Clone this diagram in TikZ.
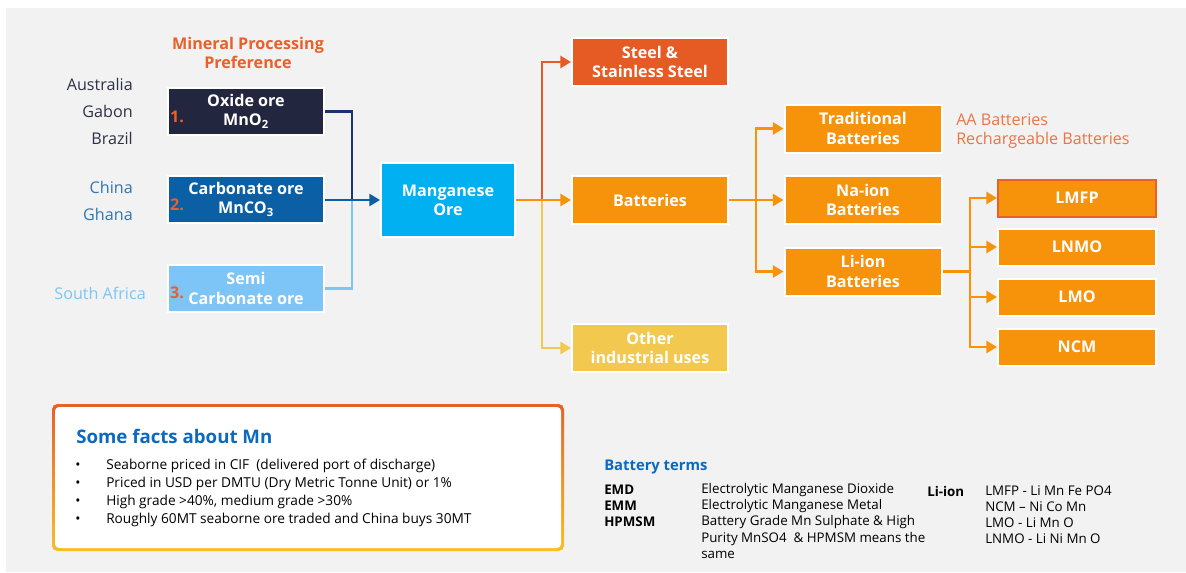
\documentclass[tikz,border=0pt]{standalone}
\usepackage{fontspec}
\setmainfont{Open Sans}
\usetikzlibrary{arrows.meta}
\definecolor{bg}{HTML}{F2F2F2}
\definecolor{navy}{HTML}{23263F}
\definecolor{navyline}{HTML}{1B3370}
\definecolor{carb}{HTML}{0B5FA5}
\definecolor{semi}{HTML}{7DC4F7}
\definecolor{mnblue}{HTML}{00B0F0}
\definecolor{steel}{HTML}{E65A24}
\definecolor{bat}{HTML}{F7920B}
\definecolor{other}{HTML}{F2C84E}
\definecolor{orangetxt}{HTML}{E8602A}
\definecolor{aatxt}{HTML}{EA7448}
\definecolor{titleblue}{HTML}{0B6ABF}
\definecolor{countrydark}{HTML}{2F3146}
\definecolor{countryblue}{HTML}{2E75B6}
\definecolor{gradtop}{HTML}{E8602A}
\definecolor{gradbot}{HTML}{F9BE26}
\tikzset{
  box/.style={draw=white, line width=1.5pt, text=white, align=center, inner sep=0pt,
    font=\bfseries\fontsize{12.1}{14.5}\selectfont},
  orebox/.style={box, minimum width=117pt, minimum height=35.25pt},
  usebox/.style={box, minimum width=117pt, minimum height=36pt},
  typebox/.style={box, fill=bat, minimum width=117.75pt, minimum height=36pt},
  libox/.style={box, fill=bat, minimum width=118.5pt, minimum height=27.75pt},
  country/.style={anchor=east, inner sep=0pt, font=\fontsize{12.1}{14}\selectfont},
  num/.style={inner sep=0pt, text=orangetxt, font=\bfseries\fontsize{12.1}{14}\selectfont},
  conn/.style={line width=2.2pt},
  arr/.style={conn, -{Triangle[length=8pt,width=9pt]}},
  fact/.style={anchor=west, inner sep=0pt, font=\fontsize{10.25}{12}\selectfont},
  term/.style={anchor=west, inner sep=0pt, font=\fontsize{10}{11}\selectfont},
  termb/.style={term, font=\bfseries\fontsize{10}{11}\selectfont}
}
\begin{document}
\begin{tikzpicture}[x=0.75pt,y=-0.75pt]
\useasboundingbox (0,0) rectangle (1186,572);
\fill[white] (0,0) rectangle (1186,572);
\fill[bg] (6,8) rectangle (1186,572);

% heading
\node[text=orangetxt, align=center, inner sep=0pt, font=\bfseries\fontsize{12.1}{14.25}\selectfont] (mpp) at (248,53) {Mineral Processing\\Preference};

% countries
\node[country, text=countrydark] (au) at (133,84) {Australia};
\node[country, text=countrydark] (ga) at (133,111) {Gabon};
\node[country, text=countrydark] (br) at (133,138) {Brazil};
\node[country, text=countryblue] (cn) at (133,187) {China};
\node[country, text=countryblue] (gh) at (133,214) {Ghana};
\node[country, text=semi] (sa) at (146,293) {South Africa};

% ore boxes
\node[orebox, fill=navy] (oxide) at (246,111.5) {Oxide ore\\MnO\textsubscript{2}};
\node[orebox, fill=carb] (carb) at (246,199.5) {Carbonate ore\\MnCO\textsubscript{3}};
\node[orebox, fill=semi] (semi) at (246,288.5) {Semi\\Carbonate ore};
\node[num] (n1) at (177,117) {1.};
\node[num] (n2) at (177,205) {2.};
\node[num] (n3) at (177,293) {3.};

% manganese ore
\node[box, fill=mnblue, minimum width=100.5pt, minimum height=55.5pt] (mn) at (448,200) {Manganese\\Ore};

% uses
\node[usebox, fill=steel] (steel) at (650,62) {Steel \&\\Stainless Steel};
\node[usebox, fill=bat] (bat) at (650,200) {Batteries};
\node[usebox, fill=other] (oth) at (650,348) {Other\\industrial uses};

% battery types
\node[typebox] (trad) at (863,128.5) {Traditional\\Batteries};
\node[typebox] (na) at (863,200) {Na-ion\\Batteries};
\node[typebox] (li) at (863,271.5) {Li-ion\\Batteries};
\node[text=aatxt, align=left, anchor=west, inner sep=0pt, font=\fontsize{12.1}{14.25}\selectfont] (aa) at (956,131) {AA Batteries\\Rechargeable Batteries};

% li-ion types
\node[libox, draw=orangetxt] (lmfp) at (1077,198) {LMFP};
\node[libox] (lnmo) at (1077,247) {LNMO};
\node[libox] (lmo) at (1077,297) {LMO};
\node[libox] (ncm) at (1077,347) {NCM};

% junctions
\coordinate (j1) at (352,200);
\coordinate (j2) at (542,200);
\coordinate (j3) at (756,200);
\coordinate (j4) at (970,271.5);

% connectors ores
\draw[conn, navyline] (oxide.east) -| (j1);
\draw[conn, semi] (semi.east) -| (j1);
\draw[arr, carb] (carb.east |- mn.west) -- (mn.west);

% connectors uses
\draw[arr, steel] (j2) |- (steel.west);
\draw[arr, other] (j2) |- (oth.west);
\draw[arr, bat] (mn.east) -- (bat.west);

% battery types
\draw[conn, bat] (bat.east) -- (j3);
\draw[arr, bat] (j3) |- (trad.west);
\draw[arr, bat] (j3) -- (na.west);
\draw[arr, bat] (j3) |- (li.west);

% li types
\draw[conn, bat] (li.east) -- (j4);
\draw[arr, bat] (j4) |- (lmfp.west);
\draw[arr, bat] (j4) |- (lnmo.west);
\draw[arr, bat] (j4) |- (lmo.west);
\draw[arr, bat] (j4) |- (ncm.west);

% facts box
\shade[top color=gradtop, bottom color=gradbot, rounded corners=4pt] (52,404) rectangle (564,551);
\fill[white, rounded corners=3pt] (55,407) rectangle (561,548);
\node[anchor=west, inner sep=0pt, text=titleblue, font=\bfseries\fontsize{14}{16}\selectfont] (ft) at (76,436) {Some facts about Mn};
\node[fact] (b1) at (75,466) {•};
\node[fact] (b2) at (75,484) {•};
\node[fact] (b3) at (75,502) {•};
\node[fact] (b4) at (75,520) {•};
\node[fact] (f1) at (106,466) {Seaborne priced in CIF\ \ (delivered port of discharge)};
\node[fact] (f2) at (106,484) {Priced in USD per DMTU (Dry Metric Tonne Unit) or 1\%};
\node[fact] (f3) at (106,502) {High grade >40\%, medium grade >30\%};
\node[fact] (f4) at (106,520) {Roughly 60MT seaborne ore traded and China buys 30MT};

% battery terms
\node[anchor=west, inner sep=0pt, text=titleblue, font=\bfseries\fontsize{11.1}{12}\selectfont] (bt) at (604,467) {Battery terms};
\node[termb] (t1) at (604,490) {EMD};
\node[termb] (t2) at (604,506) {EMM};
\node[termb] (t3) at (604,522) {HPMSM};
\node[term] (d1) at (701,490) {Electrolytic Manganese Dioxide};
\node[term] (d2) at (701,506) {Electrolytic Manganese Metal};
\node[term] (d3) at (701,522) {Battery Grade Mn Sulphate \& High};
\node[term] (d4) at (701,539) {Purity MnSO4\ \ \& HPMSM means the};
\node[term] (d5) at (701,555) {same};
\node[termb] (tl) at (927,491) {Li-ion};
\node[term] (l1) at (985,491) {LMFP - Li Mn Fe PO4};
\node[term] (l2) at (985,507) {NCM – Ni Co Mn};
\node[term] (l3) at (985,523) {LMO - Li Mn O};
\node[term] (l4) at (985,539) {LNMO - Li Ni Mn O};
\end{tikzpicture}
\end{document}
